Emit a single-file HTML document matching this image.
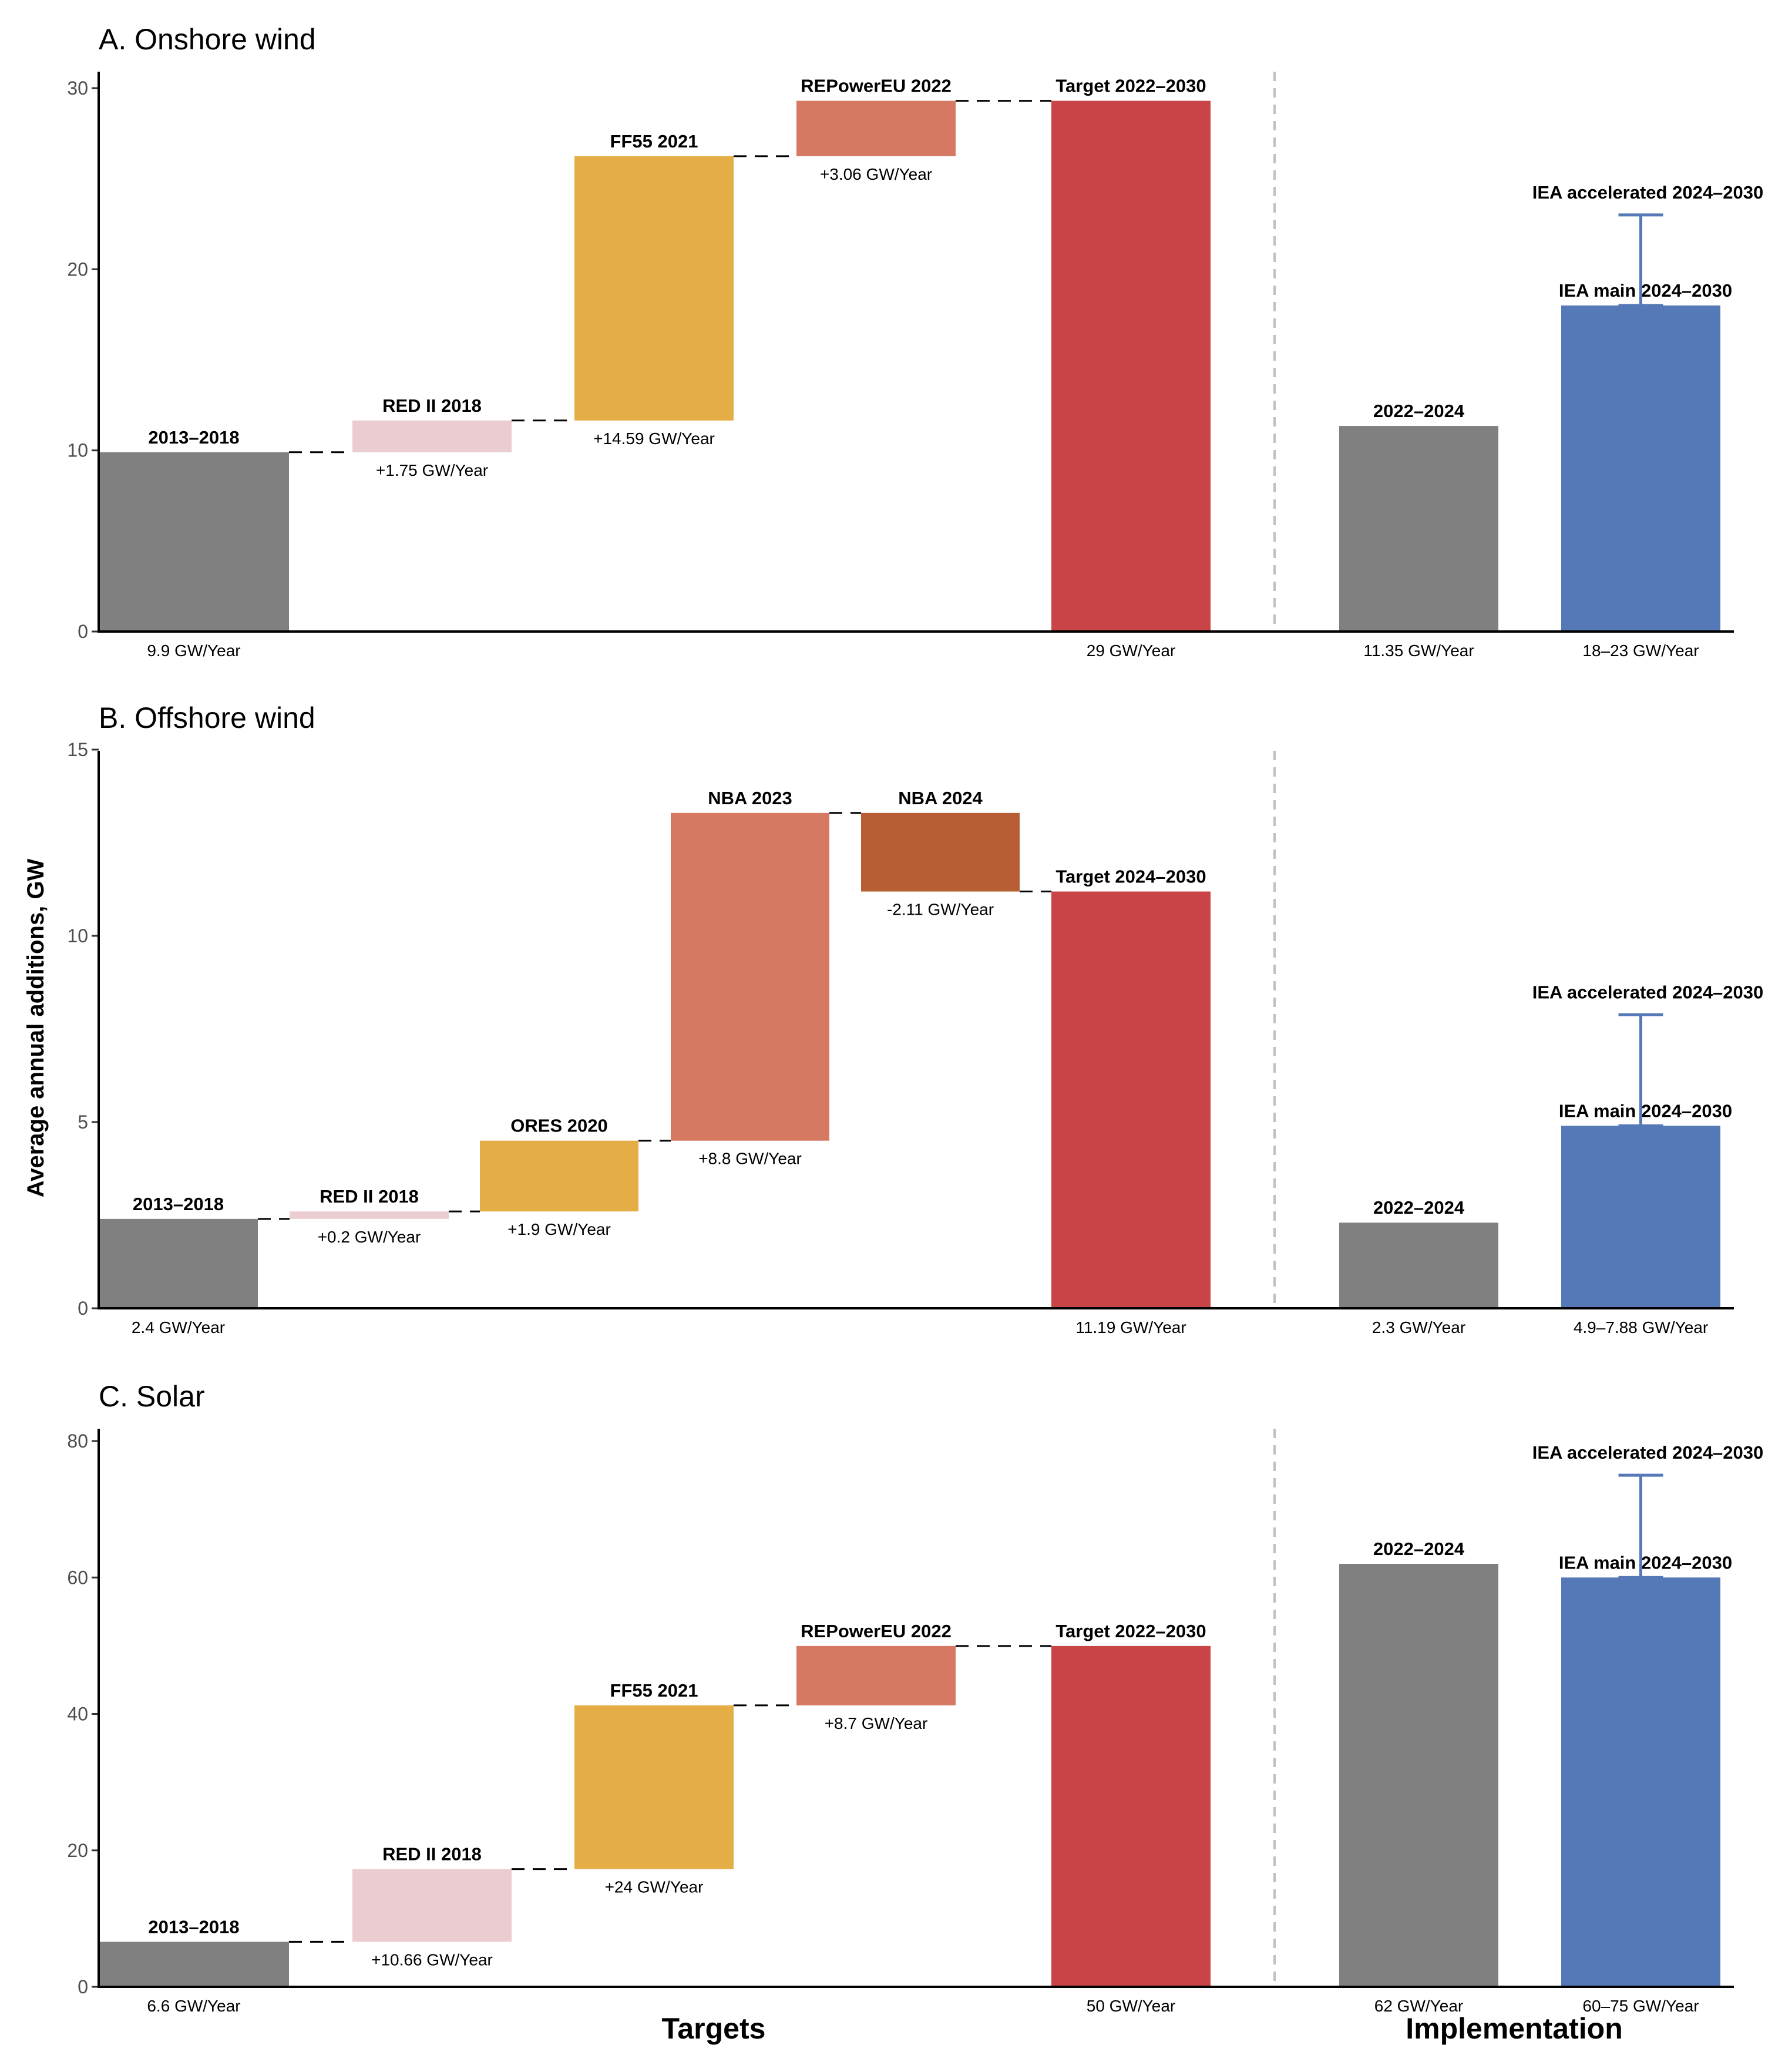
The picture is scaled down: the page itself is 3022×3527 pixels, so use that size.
<!DOCTYPE html>
<html><head><meta charset="utf-8">
<style>
html,body{margin:0;padding:0;background:#fff;}
svg text{font-family:"Liberation Sans",sans-serif;}
</style></head>
<body>
<svg id="chart" xmlns="http://www.w3.org/2000/svg" width="3022" height="3522" viewBox="0 0 3022 3522">
<rect width="3022" height="3522" fill="#fff"/>
<text x="0" y="0" transform="translate(74,1750) rotate(-90)" text-anchor="middle" font-size="40" font-weight="bold" fill="#000">Average annual additions, GW</text>
<text x="1215" y="3470" text-anchor="middle" font-size="50" font-weight="bold" fill="#000">Targets</text>
<text x="2578" y="3470" text-anchor="middle" font-size="50" font-weight="bold" fill="#000">Implementation</text>
</svg>
<script>
// Panel A - Onshore wind
const aNames = ["2013\u20132018","RED II 2018","FF55 2021","REPowerEU 2022","Target 2022\u20132030"];
const aSteps = [9.9, 1.75, 14.59, 3.06];
const aTargetLabel = "29 GW/Year";
const aImplNames = ["2022\u20132024","IEA main 2024\u20132030"];
const aImplValues = [11.35, 18];
const aImplHigh = 23;
const aImplLabels = ["11.35 GW/Year","18\u201323 GW/Year"];
const aTicks = [0,10,20,30];
// Panel B - Offshore wind
const bNames = ["2013\u20132018","RED II 2018","ORES 2020","NBA 2023","NBA 2024","Target 2024\u20132030"];
const bSteps = [2.4, 0.2, 1.9, 8.8, -2.11];
const bTargetLabel = "11.19 GW/Year";
const bImplNames = ["2022\u20132024","IEA main 2024\u20132030"];
const bImplValues = [2.3, 4.9];
const bImplHigh = 7.88;
const bImplLabels = ["2.3 GW/Year","4.9\u20137.88 GW/Year"];
const bTicks = [0,5,10,15];
// Panel C - Solar
const cNames = ["2013\u20132018","RED II 2018","FF55 2021","REPowerEU 2022","Target 2022\u20132030"];
const cSteps = [6.6, 10.66, 24, 8.7];
const cTargetLabel = "50 GW/Year";
const cImplNames = ["2022\u20132024","IEA main 2024\u20132030"];
const cImplValues = [62, 60];
const cImplHigh = 75;
const cImplLabels = ["62 GW/Year","60\u201375 GW/Year"];
const cTicks = [0,20,40,60,80];

const NS="http://www.w3.org/2000/svg";
const svg=document.getElementById('chart');
function el(tag,attrs,parent){const e=document.createElementNS(NS,tag);for(const k in attrs)e.setAttribute(k,attrs[k]);(parent||svg).appendChild(e);return e;}
const stepColors={A:["#808080","#ebcdd1","#e5ad45","#d57963"],B:["#808080","#ebcdd1","#e5ad45","#d57963","#b85e35"],C:["#808080","#ebcdd1","#e5ad45","#d57963"]};
const NAME_FS=31, VAL_FS=28;

function panel(cfg){
  const g=el('g',{});
  
  
  const y0=cfg.y0, ppu=cfg.ppu;
  const Y=v=>y0-v*ppu;
  const t=el('text',{x:168,y:cfg.titleY,'font-size':50,fill:'#000'},g);t.textContent=cfg.title;
  
  
  cfg.ticks.forEach(v=>{
    const l=el('line',{x1:156,x2:168,y1:Y(v),y2:Y(v),stroke:'#333','stroke-width':3},g);
    
    
    const tx=el('text',{x:150,y:Y(v)+11,'text-anchor':'end','font-size':32,fill:'#4d4d4d'},g);tx.textContent=v;
    
    
  });
  const dv=el('line',{x1:2170,x2:2170,y1:cfg.top,y2:y0,stroke:'#c0c0c0','stroke-width':4,'stroke-dasharray':'16,12'},g);
  
  
  let cum=0;
  const xs=cfg.xs;
  cfg.steps.forEach((s,i)=>{
    const start=cum, end=cum+s; cum=end;
    const lo=Math.min(start,end), hi=Math.max(start,end);
    const [x1,x2]=xs[i];
    const r=el('rect',{x:x1,y:Y(hi),width:x2-x1,height:(hi-lo)*ppu,fill:cfg.colors[i]},g);
    
    
    const n=el('text',{x:(x1+x2)/2,y:Y(hi)-15,'text-anchor':'middle','font-size':NAME_FS,'font-weight':'bold',fill:'#000'},g);n.textContent=cfg.names[i];
    
    
    const vl=el('text',{x:(x1+x2)/2,y:i===0?y0+42:Y(lo)+40,'text-anchor':'middle','font-size':VAL_FS,fill:'#000'},g);
    vl.textContent=i===0?(s+" GW/Year"):((s>0?"+":"")+s+" GW/Year");
    
    
    const nx=(i+1<xs.length)?xs[i+1][0]:cfg.tx[0];
    const c=el('line',{x1:x2,x2:nx,y1:Y(end),y2:Y(end),stroke:'#000','stroke-width':3,'stroke-dasharray':'22,14'},g);
    
    
  });
  const [t1,t2]=cfg.tx;
  const tb=el('rect',{x:t1,y:Y(cum),width:t2-t1,height:cum*ppu,fill:'#c84446'},g);
  
  
  const tn=el('text',{x:(t1+t2)/2,y:Y(cum)-15,'text-anchor':'middle','font-size':NAME_FS,'font-weight':'bold',fill:'#000'},g);tn.textContent=cfg.names[cfg.names.length-1];
  
  
  const tv=el('text',{x:(t1+t2)/2,y:y0+42,'text-anchor':'middle','font-size':VAL_FS,fill:'#000'},g);tv.textContent=cfg.targetLabel;
  
  
  const ix=[[2280,2551],[2658,2929]], icol=['#808080','#5578b6'];
  cfg.implValues.forEach((v,i)=>{
    const [x1,x2]=ix[i];
    const r=el('rect',{x:x1,y:Y(v),width:x2-x1,height:v*ppu,fill:icol[i]},g);
    
    
    const n=el('text',{x:(x1+x2)/2+(i?8:0),y:Y(v)-15,'text-anchor':'middle','font-size':NAME_FS,'font-weight':'bold',fill:'#000'},g);n.textContent=cfg.implNames[i];
    
    
    const vl=el('text',{x:(x1+x2)/2,y:y0+42,'text-anchor':'middle','font-size':VAL_FS,fill:'#000'},g);vl.textContent=cfg.implLabels[i];
    
    
  });
  const cx=(ix[1][0]+ix[1][1])/2, lowV=cfg.implValues[1];
  const eb=el('path',{d:`M${cx} ${Y(lowV)} V${Y(cfg.high)} M${cx-38} ${Y(cfg.high)} H${cx+38} M${cx-38} ${Y(lowV)} H${cx+38}`,stroke:'#5578b6','stroke-width':5,fill:'none'},g);
  
  
  const ea=el('text',{x:cx+12,y:Y(cfg.high)-28,'text-anchor':'middle','font-size':NAME_FS,'font-weight':'bold',fill:'#000'},g);ea.textContent="IEA accelerated 2024\u20132030";
  
  
  const ax=el('path',{d:`M168 ${cfg.top} V${y0} H2952`,stroke:'#000','stroke-width':4,fill:'none'},g);
  
  
}
panel({id:'a-onshore-wind',title:'A. Onshore wind',titleY:84,y0:1075,ppu:(1075-150)/30,top:122,ticks:aTicks,steps:aSteps,names:aNames,colors:stepColors.A,
  xs:[[168,492],[600,871],[978,1249],[1356,1627]],tx:[1790,2061],targetLabel:aTargetLabel,implNames:aImplNames,implValues:aImplValues,high:aImplHigh,implLabels:aImplLabels});
panel({id:'b-offshore-wind',title:'B. Offshore wind',titleY:1239,y0:2227,ppu:(2227-1276)/15,top:1278,ticks:bTicks,steps:bSteps,names:bNames,colors:stepColors.B,
  xs:[[168,439],[493,764],[817,1087],[1142,1412],[1466,1736]],tx:[1790,2061],targetLabel:bTargetLabel,implNames:bImplNames,implValues:bImplValues,high:bImplHigh,implLabels:bImplLabels});
panel({id:'c-solar',title:'C. Solar',titleY:2394,y0:3382,ppu:(3382-2453)/80,top:2432,ticks:cTicks,steps:cSteps,names:cNames,colors:stepColors.C,
  xs:[[168,492],[600,871],[978,1249],[1356,1627]],tx:[1790,2061],targetLabel:cTargetLabel,implNames:cImplNames,implValues:cImplValues,high:cImplHigh,implLabels:cImplLabels});
</script>
</body></html>
